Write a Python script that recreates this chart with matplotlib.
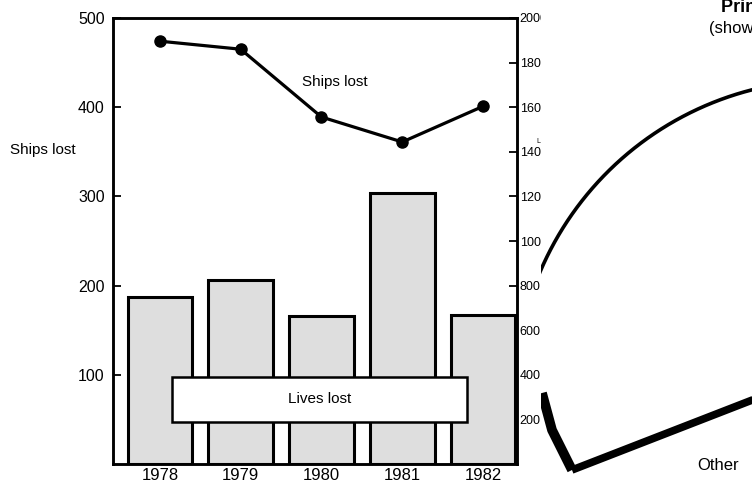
import numpy as np
import matplotlib.pyplot as plt

plt.rcParams['font.family'] = ['Liberation Sans', 'DejaVu Sans']

# data
years = ["1978", "1979", "1980", "1981", "1982"]
ships_lost = [474, 465, 389, 361, 401]          # left axis, line
lives_lost = [750, 825, 665, 1215, 670]         # right axis, bars
left_ticks = [100, 200, 300, 400, 500]
right_ticks = [200, 400, 600, 800, 1000, 1200, 1400, 1600, 1800, 2000]

W, H = 752, 482
fig = plt.figure(figsize=(W / 100, H / 100), dpi=100)

# main chart box (pixel edges from the scan)
ax = fig.add_axes([113 / W, 18 / H, 404 / W, 446 / H])
axr = ax.twinx()

x = np.arange(len(years))
axr.bar(x, lives_lost, width=0.8, color='#dedede', edgecolor='black', linewidth=2.2, zorder=2)
axr.set_ylim(0, 2000)
axr.set_yticks(right_ticks)
axr.set_yticklabels([str(t) for t in right_ticks], family=['Liberation Sans Narrow', 'Liberation Sans'],
                    fontsize=9)
axr.tick_params(axis='y', direction='in', length=6, width=1.3, pad=2)
axr.text(1.05, 0.722, "Lives lost", transform=axr.transAxes, fontsize=5, ha='left', va='center')

# put the line on top of the bars
ax.set_zorder(axr.get_zorder() + 1)
ax.patch.set_visible(False)
ax.plot(x, ships_lost, color='black', linewidth=2.3, marker='o', markersize=8, zorder=3)
ax.set_ylim(0, 500)
ax.set_xlim(-0.58, 4.42)
ax.set_yticks(left_ticks)
ax.set_yticklabels([str(t) for t in left_ticks], fontsize=11.5)
ax.tick_params(axis='y', direction='in', length=6, width=1.3, pad=6)
ax.set_xticks(x)
ax.set_xticklabels(years, fontsize=12)
ax.tick_params(axis='x', length=0, pad=3)
for a in (ax, axr):
    for s in a.spines.values():
        s.set_linewidth(1.8)

ax.text(2.16, 428, "Ships lost", fontsize=11, ha='center', va='center')
fig.text(10 / W, 1 - 150 / H, "Ships lost", fontsize=11, ha='left', va='center')

# "Lives lost" label box over the bars
box_w = 3.65
ax.add_patch(plt.Rectangle((1.98 - box_w / 2, 47), box_w, 50, facecolor='white', edgecolor='black',
                           linewidth=1.8, zorder=4))
ax.text(1.98, 73, "Lives lost", fontsize=11, ha='center', va='center', zorder=5)

# neighbouring pie chart, cut off by the page edge
axp = fig.add_axes([541 / W, 0, 1 - 541 / W, 1])
axp.set_xlim(541, W)
axp.set_ylim(H, 0)
axp.axis('off')
axp.add_patch(plt.Rectangle((541, 0), W - 541, H, facecolor='white', edgecolor='none', zorder=0))
cx, cy, r = 830, 395, 315
t = np.radians(np.linspace(200, 290, 300))
axp.plot(cx + r * np.cos(t), cy + r * np.sin(t), color='black', linewidth=2.6)
axp.plot([542, 552, 572], [393, 430, 470], color='black', linewidth=7, solid_capstyle='butt')
axp.plot([572, 760], [470, 397], color='black', linewidth=5.5, solid_capstyle='butt')
axp.text(697, 466, "Other", fontsize=12, ha='left', va='center')
axp.text(721, 8, "Principal causes", fontsize=13, fontweight='bold', ha='left', va='center')
axp.text(709, 29, "(shown as percentage)", fontsize=12, ha='left', va='center')

fig.savefig("out.png", dpi=100)
